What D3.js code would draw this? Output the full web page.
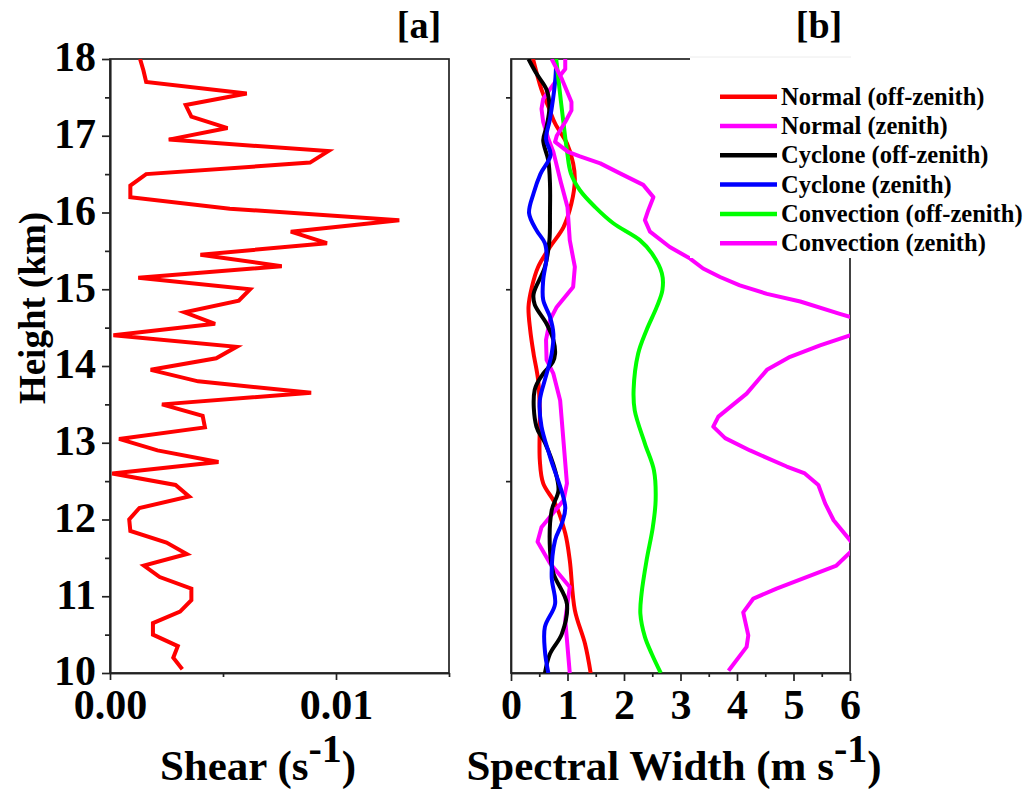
<!DOCTYPE html>
<html>
<head>
<meta charset="utf-8">
<script src="https://cdn.jsdelivr.net/npm/d3@7"></script>
<style>
  html, body { margin: 0; padding: 0; background: #fff; }
  svg { display: block; }
  text { font-family: "Liberation Serif", "Times New Roman", serif; font-weight: bold; fill: #000; }
</style>
</head>
<body>
<svg id="fig" width="1023" height="790"></svg>
<script>
// ---- Panel [a]: vertical shear profile (height in km, shear in s^-1) ----
const shearHeights = [10.05, 10.20, 10.35, 10.50, 10.65, 10.80, 10.95, 11.10, 11.25, 11.40,
  11.55, 11.70, 11.85, 12.00, 12.15, 12.30, 12.45, 12.60, 12.75, 12.90,
  13.05, 13.20, 13.35, 13.50, 13.65, 13.80, 13.95, 14.10, 14.25, 14.40,
  14.55, 14.70, 14.85, 15.00, 15.15, 15.30, 15.45, 15.60, 15.75, 15.90,
  16.05, 16.20, 16.35, 16.50, 16.65, 16.80, 16.95, 17.10, 17.25, 17.40,
  17.55, 17.70, 17.85, 18.00];
const shearValues = [0.0032, 0.0028, 0.0030, 0.0019, 0.0019, 0.0031, 0.0036, 0.0036, 0.0022, 0.0015,
  0.0034, 0.0025, 0.0009, 0.00085, 0.0013, 0.0035, 0.0029, 0.0001, 0.0048, 0.0021,
  0.0004, 0.0042, 0.0041, 0.0023, 0.0089, 0.0039, 0.0018, 0.0047, 0.0056, 0.00015,
  0.00465, 0.0033, 0.0057, 0.0062, 0.00125, 0.0076, 0.0040, 0.0096, 0.0080, 0.0128,
  0.0053, 0.0009, 0.0009, 0.0016, 0.00885, 0.00966, 0.0026, 0.0052, 0.0036, 0.00335,
  0.00605, 0.0016, 0.00148, 0.00133];

// ---- Panel [b]: spectral width profiles, [height km, width m/s] ----
const normalOffZenith = [[18.0,0.39],[17.6,0.54],[17.38,0.66],[17.16,0.78],[16.9,0.99],[16.64,1.10],
  [16.42,1.13],[16.12,1.07],[15.81,0.93],[15.55,0.69],[15.29,0.48],[15.03,0.37],[14.77,0.31],
  [14.47,0.34],[14.16,0.40],[13.82,0.48],[13.42,0.51],[12.77,0.51],[12.47,0.57],[12.21,0.78],
  [11.82,0.96],[11.47,1.04],[10.82,1.13],[10.38,1.31],[10.0,1.41]];
const normalZenith = [[18.0,0.96],[17.87,0.96],[17.70,0.78],[17.48,0.57],[17.35,0.54],[17.18,0.57],
  [16.96,0.66],[16.79,0.75],[16.40,0.88],[16.07,1.00],[15.64,1.04],[15.29,1.13],[15.03,1.10],
  [14.77,0.81],[14.6,0.69],[14.34,0.62],[14.08,0.63],[13.9,0.75],[13.55,0.87],[12.47,0.99],
  [12.25,0.93],[11.9,0.54],[11.71,0.47],[11.43,0.69],[11.12,1.04],[10.69,0.96],[10.0,1.04]];
const cycloneOffZenith = [[18.0,0.31],[17.81,0.45],[17.6,0.63],[17.38,0.68],[17.12,0.63],[16.94,0.57],
  [16.68,0.66],[16.38,0.69],[15.99,0.69],[15.64,0.68],[15.29,0.60],[14.94,0.40],[14.8,0.42],
  [14.55,0.63],[14.34,0.75],[14.16,0.78],[14.05,0.74],[13.9,0.57],[13.69,0.42],[13.21,0.45],
  [13.0,0.60],[12.64,0.78],[12.38,0.84],[12.12,0.72],[11.6,0.69],[11.3,0.75],[10.9,0.99],
  [10.51,0.90],[10.25,0.69],[10.0,0.60]];
const cycloneZenith = [[17.95,0.80],[17.7,0.78],[17.22,0.69],[16.96,0.62],[16.75,0.70],[16.5,0.52],
  [16.25,0.40],[15.99,0.32],[15.77,0.45],[15.6,0.60],[15.42,0.63],[15.12,0.57],[14.86,0.57],
  [14.64,0.69],[14.42,0.75],[14.16,0.72],[13.95,0.65],[13.82,0.60],[13.55,0.51],[13.21,0.54],
  [12.82,0.69],[12.16,0.96],[11.95,0.90],[11.73,0.78],[11.25,0.72],[10.9,0.78],[10.6,0.60],
  [10.29,0.60],[10.0,0.66]];
const convectionOffZenith = [[18.0,0.80],[17.6,0.86],[17.16,0.93],[16.81,0.99],[16.51,1.06],[16.29,1.22],
  [16.07,1.49],[15.86,1.81],[15.64,2.28],[15.47,2.49],[15.21,2.67],[14.99,2.68],[14.77,2.58],
  [14.47,2.40],[14.16,2.25],[13.69,2.17],[13.42,2.19],[12.99,2.37],[12.64,2.53],[12.25,2.56],
  [11.90,2.51],[11.47,2.40],[11.03,2.31],[10.77,2.29],[10.47,2.37],[10.25,2.49],[10.0,2.65]];
const convectionZenith = [[18.0,0.72],[17.74,0.90],[17.44,1.07],[17.33,1.07],[17.18,0.96],[17.0,0.81],
  [16.92,0.78],[16.79,1.01],[16.73,1.22],[16.64,1.58],[16.51,1.93],[16.36,2.34],[16.2,2.52],
  [16.03,2.43],[15.9,2.37],[15.75,2.46],[15.55,2.81],[15.4,3.17],[15.27,3.40],[15.16,3.70],
  [15.05,4.05],[14.94,4.53],[14.84,5.12],[14.68,5.82],[14.53,6.5],[14.40,6.0],[14.27,5.47],
  [14.12,4.94],[13.95,4.53],[13.64,4.17],[13.34,3.67],[13.21,3.58],[13.06,3.79],[12.9,4.23],
  [12.69,4.88],[12.6,5.20],[12.45,5.44],[12.21,5.56],[11.99,5.71],[11.64,6.1],[11.4,5.76],
  [11.1,4.70],[10.97,4.29],[10.79,4.11],[10.49,4.20],[10.34,4.17],[10.03,3.85]];

const seriesNames = ["Normal (off-zenith)", "Normal (zenith)", "Cyclone (off-zenith)",
  "Cyclone (zenith)", "Convection (off-zenith)", "Convection (zenith)"];
const seriesData = [normalOffZenith, normalZenith, cycloneOffZenith, cycloneZenith,
  convectionOffZenith, convectionZenith];
const seriesColors = ["#ff0000", "#ff00ff", "#000000", "#0000ff", "#00ff00", "#ff00ff"];
const seriesSmooth = [true, false, true, true, true, false];

// Axis tick values
const heightTicks = [10, 11, 12, 13, 14, 15, 16, 17, 18];
const heightMinor = [10.5, 11.5, 12.5, 13.5, 14.5, 15.5, 16.5, 17.5];
const shearTicks = [0, 0.01];
const shearTickLabels = ["0.00", "0.01"];
const shearMinor = [0.005, 0.015];
const widthTicks = [0, 1, 2, 3, 4, 5, 6];
const widthMinor = [0.5, 1.5, 2.5, 3.5, 4.5, 5.5];
const widthHeightTicks = [12.5, 15, 17.5];

const svg = d3.select("#fig");
const plotTop = 59, plotBottom = 673;
const axisColor = "#222";
const tickFont = 42;

const y = d3.scaleLinear().domain([10, 18]).range([plotBottom, plotTop]);
const xA = d3.scaleLinear().domain([0, 0.015]).range([110, 449]);
const xB = d3.scaleLinear().domain([0, 6]).range([511, 850]);

function styleAxis(g) {
  g.selectAll("path, line").attr("stroke", axisColor).attr("stroke-width", 1.7);
  g.selectAll("text").attr("fill", "#000").style("font-family", '"Liberation Serif","Times New Roman",serif')
    .style("font-weight", "bold");
}

// clip regions
const defs = svg.append("defs");
defs.append("clipPath").attr("id", "clipA").append("rect")
  .attr("x", 110).attr("y", plotTop).attr("width", 339).attr("height", plotBottom - plotTop);
defs.append("clipPath").attr("id", "clipB").append("rect")
  .attr("x", 511).attr("y", plotTop).attr("width", 339).attr("height", plotBottom - plotTop);

// ---------- Panel [a] ----------
const gA = svg.append("g");
gA.append("rect").attr("x", 110).attr("y", plotTop).attr("width", 339).attr("height", plotBottom - plotTop)
  .attr("fill", "none").attr("stroke", axisColor).attr("stroke-width", 1.7);

gA.append("g").attr("transform", "translate(110,0)")
  .call(d3.axisLeft(y).tickValues(heightMinor).tickSize(5).tickFormat("").tickSizeOuter(0))
  .call(styleAxis);
gA.append("g").attr("transform", "translate(110,0)")
  .call(d3.axisLeft(y).tickValues(heightTicks).tickSize(8).tickPadding(6).tickFormat(d3.format("d")).tickSizeOuter(0))
  .call(styleAxis)
  .call(g => g.selectAll("text").attr("font-size", tickFont).attr("dy", "0.28em"));

gA.append("g").attr("transform", `translate(0,${plotBottom})`)
  .call(d3.axisBottom(xA).tickValues(shearMinor).tickSize(4).tickFormat("").tickSizeOuter(0))
  .call(styleAxis);
gA.append("g").attr("transform", `translate(0,${plotBottom})`)
  .call(d3.axisBottom(xA).tickValues(shearTicks).tickSize(7).tickSizeOuter(0)
    .tickFormat((d, i) => shearTickLabels[i]))
  .call(styleAxis)
  .call(g => g.selectAll("text").attr("font-size", tickFont).attr("y", 46).attr("dy", 0));

const shearPts = shearHeights.map((h, i) => [shearValues[i], h]);
gA.append("path").datum(shearPts)
  .attr("clip-path", "url(#clipA)")
  .attr("fill", "none").attr("stroke", "#ff0000").attr("stroke-width", 4)
  .attr("stroke-linejoin", "miter")
  .attr("d", d3.line().x(d => xA(d[0])).y(d => y(d[1])));

// ---------- Panel [b] ----------
const gB = svg.append("g");
gB.append("rect").attr("x", 511).attr("y", plotTop).attr("width", 339).attr("height", plotBottom - plotTop)
  .attr("fill", "none").attr("stroke", axisColor).attr("stroke-width", 1.7);

gB.append("g").attr("transform", "translate(511,0)")
  .call(d3.axisLeft(y).tickValues(widthHeightTicks).tickSize(5).tickFormat("").tickSizeOuter(0))
  .call(styleAxis);
gB.append("g").attr("transform", `translate(0,${plotBottom})`)
  .call(d3.axisBottom(xB).tickValues(widthMinor).tickSize(4).tickFormat("").tickSizeOuter(0))
  .call(styleAxis);
gB.append("g").attr("transform", `translate(0,${plotBottom})`)
  .call(d3.axisBottom(xB).tickValues(widthTicks).tickSize(8).tickSizeOuter(0).tickFormat(d3.format("d")))
  .call(styleAxis)
  .call(g => g.selectAll("text").attr("font-size", tickFont).attr("y", 46).attr("dy", 0));

const lineB = d3.line().x(d => xB(d[1])).y(d => y(d[0]));
seriesData.forEach((pts, i) => {
  gB.append("path").datum(pts)
    .attr("clip-path", "url(#clipB)")
    .attr("fill", "none").attr("stroke", seriesColors[i]).attr("stroke-width", 4)
    .attr("stroke-linejoin", "round")
    .attr("d", lineB.curve(seriesSmooth[i] ? d3.curveCatmullRom.alpha(0.5) : d3.curveLinear)(pts));
});

// ---------- Legend ----------
const lg = svg.append("g");
lg.append("rect").attr("x", 690).attr("y", 50).attr("width", 333).attr("height", 208).attr("fill", "#fff");
lg.append("line").attr("x1", 690).attr("x2", 851).attr("y1", 57).attr("y2", 57)
  .attr("stroke", "#ececec").attr("stroke-width", 1);
seriesNames.forEach((name, i) => {
  const ry = 96.7 + i * 29.3;
  lg.append("line").attr("x1", 720).attr("x2", 777).attr("y1", ry).attr("y2", ry)
    .attr("stroke", seriesColors[i]).attr("stroke-width", 4.5);
  lg.append("text").attr("x", 781).attr("y", ry + 8).attr("font-size", 24.5).text(name);
});

// ---------- Titles and labels ----------
svg.append("text").attr("x", 419).attr("y", 38).attr("text-anchor", "middle").attr("font-size", 38).text("[a]");
svg.append("text").attr("x", 819).attr("y", 38).attr("text-anchor", "middle").attr("font-size", 38).text("[b]");

svg.append("text").attr("transform", "translate(45,308) rotate(-90)")
  .attr("text-anchor", "middle").attr("font-size", 37).text("Height (km)");

function unitLabel(cx, base, unit) {
  const t = svg.append("text").attr("x", cx).attr("y", 780).attr("text-anchor", "middle").attr("font-size", 43);
  t.append("tspan").text(base + " (" + unit);
  t.append("tspan").attr("dy", -18).attr("font-size", 40).text("-1");
  t.append("tspan").attr("dy", 18).text(")");
}
unitLabel(258, "Shear", "s");
unitLabel(674, "Spectral Width", "m s");
</script>
</body>
</html>
